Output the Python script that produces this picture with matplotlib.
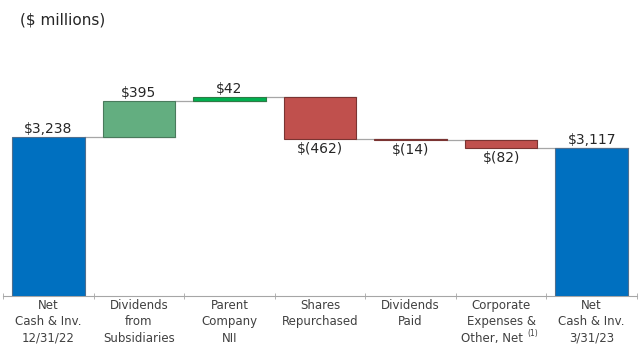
import numpy as np
import matplotlib.pyplot as plt

# data
categories = ["Net\nCash & Inv.\n12/31/22", "Dividends\nfrom\nSubsidiaries",
              "Parent\nCompany\nNII", "Shares\nRepurchased", "Dividends\nPaid",
              "Corporate\nExpenses &\nOther, Net     ", "Net\nCash & Inv.\n3/31/23"]
start_value = 3238
changes = [395, 42, -462, -14, -82]
end_value = 3117
value_labels = ["\\$3,238", "\\$395", "\\$42", "\\$(462)", "\\$(14)", "\\$(82)", "\\$3,117"]

blue = "#0070C0"
colors = [blue, "#63AE80", "#00B050", "#C0504D", "#C0504D", "#C0504D", blue]
edges = ["#4F6F8F", "#4A7A5C", "#2E7A45", "#7A3432", "#7A3432", "#7A3432", "#4F6F8F"]

fig = plt.figure(figsize=(6.4, 3.56), dpi=100)
ax = fig.add_axes([3 / 640, 60 / 356, 634 / 640, 256 / 356])

ymin = 1490
# bottoms / heights for each bar
running = [start_value]
for c in changes:
    running.append(running[-1] + c)
bottoms = [ymin]
heights = [start_value - ymin]
for i, c in enumerate(changes):
    prev = running[i]
    bottoms.append(min(prev, prev + c))
    heights.append(abs(c))
bottoms.append(ymin)
heights.append(end_value - ymin)

x = np.arange(len(categories))
ax.bar(x, heights, bottom=bottoms, width=0.8, color=colors, edgecolor=edges, linewidth=0.8, zorder=3)

# connectors
levels = running + [end_value]
for i in range(len(categories) - 1):
    ax.plot([i + 0.4, i + 1.4], [levels[i], levels[i]], color="#A6A6A6", lw=0.9, zorder=2)

# value labels
signs = [1] + [np.sign(c) for c in changes] + [1]
for i in range(len(categories)):
    if signs[i] > 0:
        ax.annotate(value_labels[i], (x[i], bottoms[i] + heights[i]), xytext=(0, 0.5),
                    textcoords="offset points", ha="center", va="bottom", fontsize=10, color="#262626")
    else:
        ax.annotate(value_labels[i], (x[i], bottoms[i]), xytext=(0, -2),
                    textcoords="offset points", ha="center", va="top", fontsize=10, color="#262626")

ax.set_xlim(-0.5, len(categories) - 0.5)
ax.set_ylim(ymin, ymin + 256 / 0.091)

for s in ["top", "right", "left"]:
    ax.spines[s].set_visible(False)
ax.spines["bottom"].set_color("#A6A6A6")
ax.set_yticks([])
ax.set_xticks(x)
ax.set_xticklabels(categories, fontsize=8.5, color="#404040", linespacing=1.35)
ax.tick_params(axis="x", which="major", length=0, pad=2)
ax.set_xticks(np.arange(-0.5, len(categories)), minor=True)
ax.tick_params(axis="x", which="minor", length=4, direction="inout", color="#A6A6A6")

# footnote marker on the corporate expenses label
ax.text(5.29, -0.155, "(1)", transform=ax.get_xaxis_transform(), fontsize=5.5, color="#404040")

fig.text(20 / 640, 1 - 20 / 356, "($ millions)", fontsize=11, color="#262626", va="center")

fig.savefig("out.png", dpi=100)
